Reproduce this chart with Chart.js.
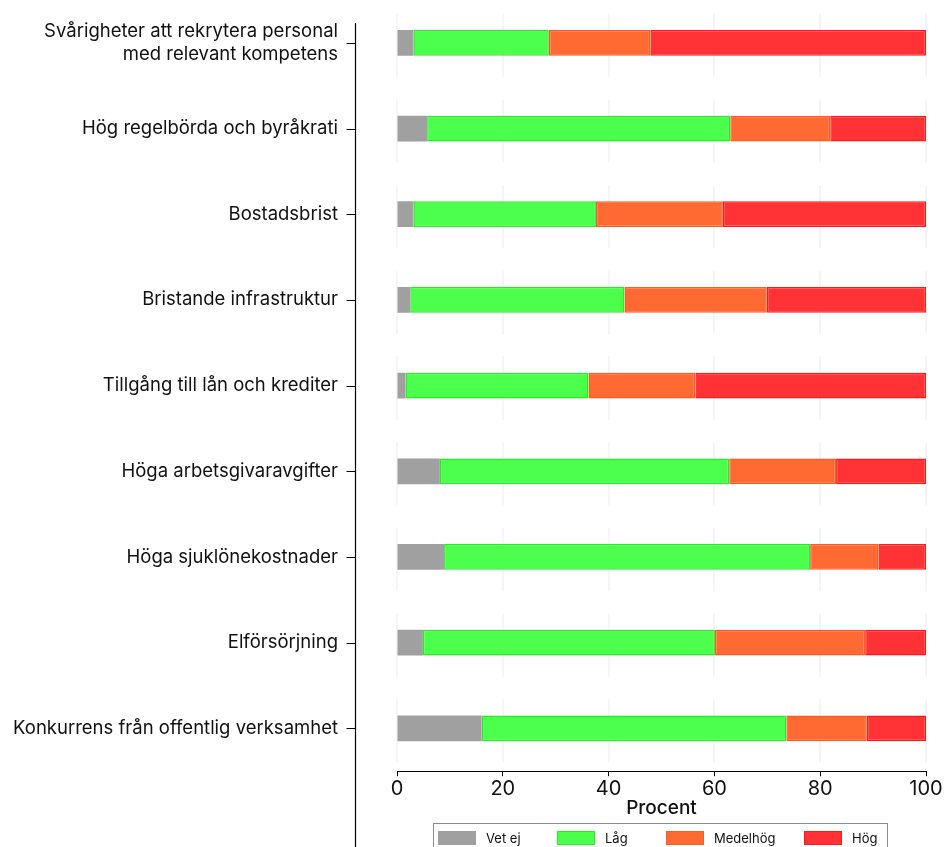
<!DOCTYPE html>
<html lang="sv">
<head>
<meta charset="utf-8">
<title>Hinder för verksamheten</title>
<script src="https://cdn.jsdelivr.net/npm/chart.js@4.4.1/dist/chart.umd.min.js"></script>
<style>
  html, body { margin: 0; padding: 0; background: #fff; }
  #wrap { position: relative; width: 945px; height: 847px; overflow: hidden; }
  #legend {
    position: absolute; left: 433px; top: 823px; width: 455px; height: 34px;
    border: 1px solid #8c8c8c; box-sizing: border-box;
    font-family: Inter, "Noto Sans", sans-serif; font-size: 13px; color: #111;
  }
  .item { position: absolute; top: 6px; display: flex; align-items: center; }
  .swatch { width: 38px; height: 14px; box-sizing: border-box; border: 1px solid; margin-right: 10px; }
</style>
</head>
<body>
<div id="wrap">
  <canvas id="chart" width="945" height="847"></canvas>
  <div id="legend"></div>
</div>
<script>
const categories = [
  ['Svårigheter att rekrytera personal', 'med relevant kompetens'],
  'Hög regelbörda och byråkrati',
  'Bostadsbrist',
  'Bristande infrastruktur',
  'Tillgång till lån och krediter',
  'Höga arbetsgivaravgifter',
  'Höga sjuklönekostnader',
  'Elförsörjning',
  'Konkurrens från offentlig verksamhet'
];

// andel svar i procent, samma ordning som categories
const vetEj    = [3.1, 5.7, 3.1, 2.5, 1.6, 8.1, 8.9, 4.9, 16.0];
const lag      = [25.6, 57.3, 34.5, 40.5, 34.6, 54.7, 69.2, 55.2, 57.6];
const medelhog = [19.2, 18.9, 24.0, 26.9, 20.2, 20.2, 12.9, 28.4, 15.2];
const hog      = [52.1, 18.1, 38.4, 30.1, 43.6, 17.0, 9.0, 11.5, 11.2];

const seriesNames = ['Vet ej', 'Låg', 'Medelhög', 'Hög'];
const xTicks = [0, 20, 40, 60, 80, 100];

const fills   = ['#a0a0a0', '#4cff4c', '#ff6a33', '#ff3336'];
const borders = ['#a0a0a0', '#22ee22', '#ff5a1f', '#ff1a1a'];
const FONT = 'Inter, "Noto Sans", sans-serif';

// gridlines only inside each row band, like the original
const rowGrid = {
  id: 'rowGrid',
  beforeDatasetsDraw(chart) {
    const { ctx, scales: { x, y } } = chart;
    ctx.save();
    ctx.strokeStyle = '#eff3f3';
    ctx.lineWidth = 1.5;
    xTicks.forEach(t => {
      const px = Math.round(x.getPixelForValue(t));
      categories.forEach((c, i) => {
        const py = y.getPixelForValue(i);
        ctx.beginPath();
        ctx.moveTo(px, py - 29);
        ctx.lineTo(px, py + 34);
        ctx.stroke();
      });
    });
    ctx.restore();
  }
};

// the y axis line sits left of the plot area
const yAxisLine = {
  id: 'yAxisLine',
  afterDraw(chart) {
    const { ctx, chartArea, scales: { y } } = chart;
    const x0 = Math.round(chartArea.left - 42) + 0.5;
    ctx.save();
    ctx.strokeStyle = '#000';
    ctx.lineWidth = 1.2;
    ctx.beginPath();
    ctx.moveTo(x0, 23);
    ctx.lineTo(x0, chart.height);
    y.ticks.forEach((t, i) => {
      const py = Math.round(y.getPixelForTick(i)) + 0.5;
      ctx.moveTo(x0 - 9, py);
      ctx.lineTo(x0, py);
    });
    ctx.stroke();
    ctx.restore();
  }
};

const datasets = [vetEj, lag, medelhog, hog].map((values, i) => ({
  label: seriesNames[i],
  data: values,
  backgroundColor: fills[i],
  borderColor: borders[i],
  borderWidth: i === 0 ? 0 : 1.5,
  borderSkipped: false,
  barPercentage: 0.3,
  categoryPercentage: 1
}));

new Chart(document.getElementById('chart'), {
  type: 'bar',
  data: { labels: categories, datasets },
  plugins: [rowGrid, yAxisLine],
  options: {
    indexAxis: 'y',
    responsive: false,
    animation: false,
    layout: { padding: { top: -2, right: 19, bottom: 27, left: 0 } },
    plugins: {
      legend: { display: false },
      tooltip: { enabled: false }
    },
    scales: {
      x: {
        stacked: true,
        min: 0,
        max: 100,
        afterBuildTicks: scale => { scale.ticks = xTicks.map(v => ({ value: v })); },
        grid: { drawOnChartArea: false, color: '#000', tickLength: 5, tickWidth: 1 },
        border: { color: '#000', width: 1 },
        ticks: { color: '#111', padding: 1, font: { family: FONT, size: 20 } },
        title: {
          display: true,
          text: 'Procent',
          color: '#111',
          padding: { top: -5, bottom: 0 },
          font: { family: FONT, size: 19, weight: '500' }
        }
      },
      y: {
        stacked: true,
        grid: { display: false, drawTicks: false },
        border: { display: false },
        ticks: { color: '#111', padding: 59, font: { family: FONT, size: 18.5 } },
        afterFit: scale => {
          // the large label padding should not push the plot down
          scale.width = 397;
          scale.paddingTop = 0;
          scale.paddingBottom = 0;
        }
      }
    }
  }
});

const legend = document.getElementById('legend');
const itemLeft = [4, 123, 232, 370];
seriesNames.forEach((name, i) => {
  legend.insertAdjacentHTML('beforeend',
    `<div class="item" style="left:${itemLeft[i]}px">
       <span class="swatch" style="background:${fills[i]};border-color:${borders[i]}"></span>${name}
     </div>`);
});
</script>
</body>
</html>
